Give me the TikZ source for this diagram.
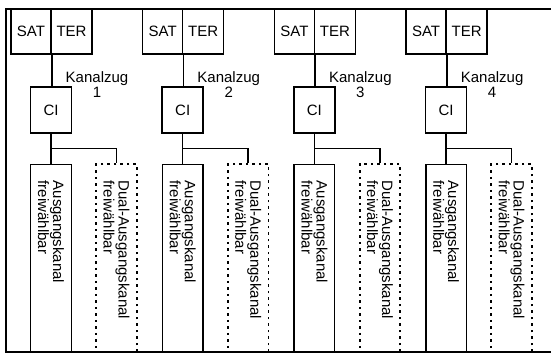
\documentclass[tikz,border=0pt]{standalone}
\usepackage{fontspec}
\setmainfont{Liberation Sans}
\usetikzlibrary{positioning}

\tikzset{
  box/.style={draw, line width=1.5pt, inner sep=0pt, font=\fontsize{15}{15}\selectfont},
  outbox/.style={box, rotate=-90, minimum width=187.5pt, minimum height=40.6pt,
    inner xsep=16pt, text width=155pt, align=left, font=\fontsize{15}{13.5}\selectfont},
  dualbox/.style={outbox, line width=1.9pt, dash pattern=on 2.5pt off 4pt},
  wire/.style={line width=1.5pt}
}

\begin{document}
\begin{tikzpicture}[x=1pt, y=-1pt]
    \useasboundingbox (0,0) rectangle (551,355);

    % Frame
    \draw[line width=1.7pt] (551,9) -- (6,9) -- (6,352) -- (551,352);

    \foreach \i in {1,...,4} {
        \pgfmathsetmacro{\X}{11+131.7*(\i-1)}

        % Receivers
        \node[box, minimum width=40pt, minimum height=45.3pt] (sat\i) at (\X+20,31.4) {SAT};
        \node[box, minimum width=41pt, minimum height=45.3pt] (ter\i) at (\X+60.5,31.4) {TER};

        % CI slot
        \node[box, minimum width=41pt, minimum height=46pt] (ci\i) at (\X+40,110) {CI};
        \node[font=\fontsize{15}{12.5}\selectfont, align=center] (kz\i) at (\X+86,84.5) {Kanalzug\\\i};

        % Outputs
        \node[outbox] (out\i) at (\X+40,258.2) {Ausgangskanal\\freiwählbar};
        \node[dualbox] (dual\i) at (\X+105.5,258.2) {Dual-Ausgangskanal\\freiwählbar};

        % Connections
        \draw[wire] (sat\i.south east) -- (sat\i.south east |- ci\i.north);
        \draw[wire] (ci\i.south) -- (out\i.west);
        \coordinate (br\i) at (\X+40,148.3);
        \draw[wire] (br\i) -| (dual\i.west);
    }
\end{tikzpicture}
\end{document}
